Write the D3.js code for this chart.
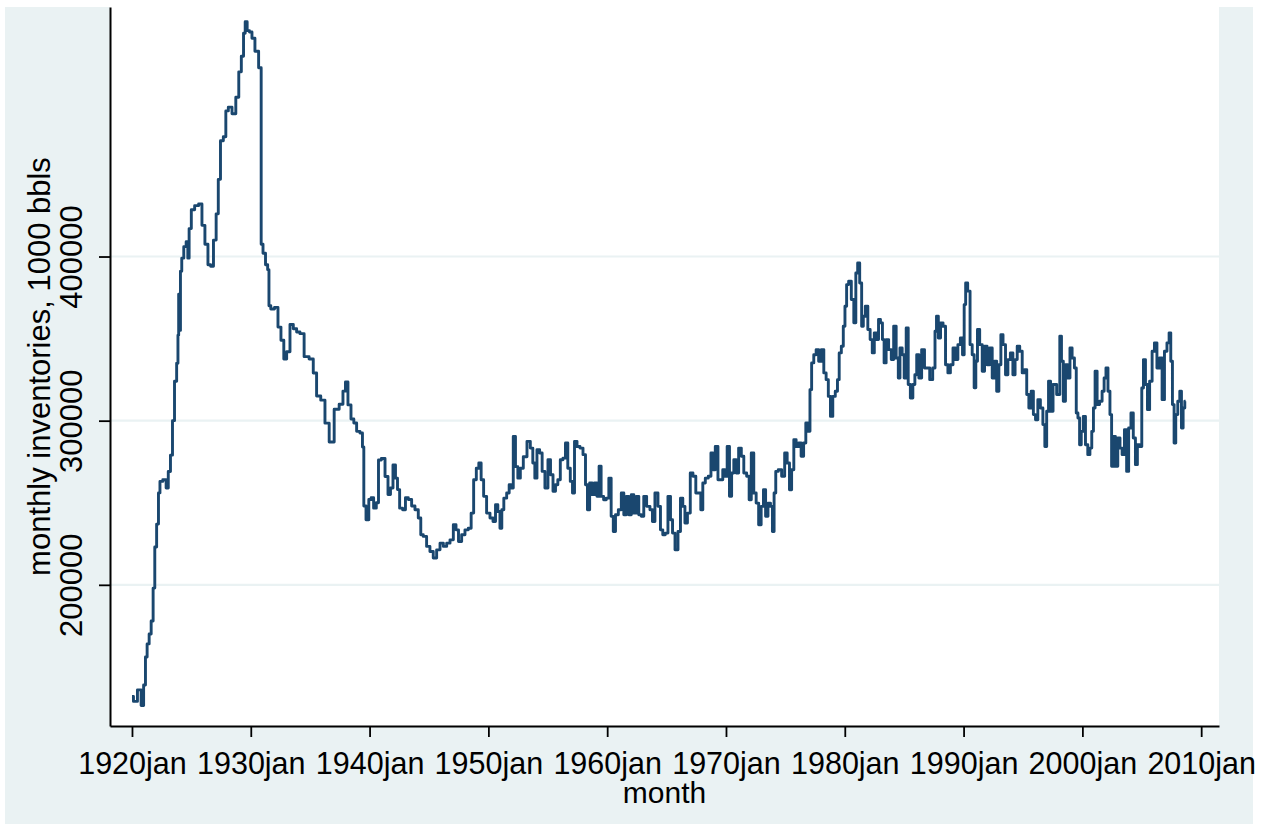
<!DOCTYPE html>
<html>
<head>
<meta charset="utf-8">
<script src="https://cdnjs.cloudflare.com/ajax/libs/d3/7.8.5/d3.min.js"></script>
<style>
  body { margin: 0; background: #ffffff; }
  text { font-family: "Liberation Sans", Arial, sans-serif; fill: #000; }
</style>
</head>
<body>
<div id="chart"></div>
<script>
// monthly crude inventories (month as decimal year, value in 1000 bbls)
var months = [
  1920.00, 1920.25, 1920.67, 1920.87, 1921.09, 1921.18, 1921.37, 1921.52, 1921.71, 1921.85,
  1921.99, 1922.16, 1922.30, 1922.41, 1922.78, 1922.97, 1923.14, 1923.34, 1923.48, 1923.68,
  1923.84, 1923.90, 1923.96, 1924.04, 1924.12, 1924.26, 1924.46, 1924.66, 1924.74, 1924.88,
  1925.11, 1925.44, 1925.78, 1926.00, 1926.28, 1926.51, 1926.73, 1926.99, 1927.18, 1927.35,
  1927.55, 1927.83, 1927.97, 1928.25, 1928.59, 1928.89, 1929.09, 1929.32, 1929.46, 1929.60,
  1929.79, 1929.99, 1930.21, 1930.49, 1930.83, 1930.92, 1931.14, 1931.34, 1931.50, 1931.56,
  1931.81, 1932.18, 1932.40, 1932.68, 1932.88, 1933.16, 1933.44, 1933.72, 1934.00, 1934.28,
  1934.70, 1935.12, 1935.40, 1935.68, 1936.10, 1936.39, 1936.81, 1937.23, 1937.65, 1937.87,
  1938.07, 1938.29, 1938.58,
  1938.77, 1939.05, 1939.33, 1939.47, 1939.56, 1939.84, 1940.03, 1940.23, 1940.45, 1940.68,
  1940.82, 1941.16, 1941.44, 1941.66, 1941.86, 1942.08, 1942.28, 1942.42, 1942.64, 1942.92,
  1943.12, 1943.40, 1943.68, 1943.96, 1944.24, 1944.38, 1944.66, 1944.94, 1945.22, 1945.50,
  1945.79, 1946.07, 1946.35, 1946.63, 1946.91, 1947.19, 1947.36, 1947.61, 1947.89, 1948.17,
  1948.45, 1948.65, 1948.87, 1949.10, 1949.29, 1949.49, 1949.71, 1949.99, 1950.28, 1950.50,
  1950.70, 1950.89, 1951.06, 1951.20, 1951.40, 1951.68, 1951.82, 1952.01, 1952.18, 1952.38,
  1952.58, 1952.80, 1953.08, 1953.42, 1953.64, 1953.84, 1953.98, 1954.20, 1954.43, 1954.62,
  1954.90, 1955.13, 1955.33, 1955.55, 1955.75, 1955.94, 1956.17, 1956.39, 1956.59, 1956.78,
  1957.01, 1957.15, 1957.35, 1957.57, 1957.85, 1958.08, 1958.27, 1958.41, 1958.64, 1958.83,
  1959.03, 1959.25, 1959.39, 1959.59, 1959.81, 1960.04, 1960.24, 1960.43, 1960.60, 1960.80,
  1961.08, 1961.30, 1961.50, 1961.72, 1961.92, 1962.14, 1962.34, 1962.56, 1962.76,
  1962.98, 1963.18, 1963.46, 1963.74, 1963.88, 1964.16, 1964.39, 1964.58, 1964.78, 1965.00,
  1965.23, 1965.43, 1965.57, 1965.85, 1966.07, 1966.27, 1966.46, 1966.63, 1966.88, 1967.11,
  1967.33, 1967.59, 1967.81, 1967.95, 1968.15, 1968.37, 1968.65, 1968.82, 1968.99, 1969.21,
  1969.44, 1969.63, 1969.83, 1970.00, 1970.20, 1970.39, 1970.56, 1970.76, 1970.95, 1971.18,
  1971.40, 1971.60, 1971.88, 1972.02, 1972.24, 1972.44, 1972.64, 1972.86, 1973.06, 1973.25,
  1973.42, 1973.65, 1973.84, 1973.98, 1974.12, 1974.26, 1974.54, 1974.83, 1975.05, 1975.25,
  1975.44, 1975.61, 1975.81, 1976.00, 1976.23, 1976.42, 1976.65, 1976.79, 1977.01, 1977.13,
  1977.29, 1977.49, 1977.69, 1977.91, 1978.14, 1978.33, 1978.53, 1978.70, 1978.89, 1979.09,
  1979.31, 1979.46, 1979.60, 1979.82, 1979.93, 1980.10, 1980.21, 1980.44, 1980.66, 1980.86,
  1981.00, 1981.17, 1981.34, 1981.50, 1981.62, 1981.84, 1982.04, 1982.23, 1982.40, 1982.57,
  1982.77, 1982.91, 1983.10, 1983.24, 1983.38, 1983.58, 1983.80, 1984.03, 1984.20,
  1984.45, 1984.56, 1984.73, 1984.93, 1985.07, 1985.27, 1985.41, 1985.63, 1985.83, 1985.97,
  1986.14, 1986.33, 1986.61, 1986.81, 1987.04, 1987.26, 1987.54, 1987.65, 1987.79, 1987.96,
  1988.16, 1988.38, 1988.58, 1988.78, 1989.00, 1989.22, 1989.42, 1989.62, 1989.84, 1989.98,
  1990.12, 1990.23, 1990.46, 1990.63, 1990.82, 1990.96, 1991.10, 1991.24, 1991.47, 1991.67,
  1991.86, 1992.09, 1992.31, 1992.51, 1992.70, 1992.87, 1993.07, 1993.21, 1993.43, 1993.63,
  1993.83, 1994.05, 1994.25, 1994.42, 1994.61, 1994.84, 1995.03, 1995.23, 1995.40, 1995.59,
  1995.79, 1995.96, 1996.15, 1996.35, 1996.58, 1996.77, 1996.91, 1997.08, 1997.22, 1997.42,
  1997.64,
  1998.03, 1998.17, 1998.31, 1998.48, 1998.67, 1998.87, 1999.04, 1999.23, 1999.43, 1999.54,
  1999.71, 1999.82, 1999.99, 2000.16, 2000.36, 2000.55, 2000.72, 2000.86, 2001.00, 2001.14,
  2001.34, 2001.56, 2001.76, 2001.90, 2002.07, 2002.24, 2002.40, 2002.52, 2002.68, 2002.88,
  2003.08, 2003.25, 2003.44, 2003.64, 2003.81, 2003.98, 2004.20, 2004.37, 2004.56, 2004.70,
  2004.93, 2005.07, 2005.21, 2005.41, 2005.55, 2005.77, 2005.97, 2006.16, 2006.39, 2006.61,
  2006.81, 2007.01, 2007.23, 2007.37, 2007.51, 2007.65, 2007.79, 2007.93, 2008.13, 2008.27,
  2008.41, 2008.55, 2008.69
];

var inventory = [
  132000, 129000, 136000, 126500, 139000, 156000, 164000, 170000, 178000, 198000,
  223000, 237000, 256000, 263000, 264000, 259000, 269000, 279000, 300000, 324000,
  335000, 352000, 377000, 355000, 391000, 399000, 406000, 409000, 399000, 417000,
  428500, 431000, 432000, 419000, 407500, 395000, 394000, 410000, 426000, 447000,
  470500, 473000, 488700, 491000, 487000, 497000, 512500, 522000, 536000, 543000,
  537600, 536800, 533000, 525000, 515000, 407500, 402000, 395000, 392000, 370000,
  368000, 369000, 357000, 349000, 337600, 342000, 358600, 356000, 354000, 353000,
  339000, 337600, 329000, 315000, 312500, 298500, 287000, 307000, 310000, 318000,
  323600, 309600, 301000,
  298600, 293500, 292500, 284000, 248000, 239600, 252000, 253000, 246700, 250000,
  276000, 277000, 266000, 255000, 259000, 273000, 265000, 258000, 246700, 245700,
  253000, 252000, 248000, 245700, 240700, 230500, 229500, 223400, 220300, 216300,
  221300, 225400, 223400, 225400, 227400, 236600, 233500, 226400, 230500, 233500,
  234500, 243700, 264000, 271000, 274200, 264000, 253900, 243700, 240700, 238600,
  248800, 244700, 234500, 245700, 252800, 255900, 261000, 259000, 290400, 272000,
  265000, 271000, 278000, 287400, 283300, 274200, 265000, 282300, 280300, 269100,
  259000, 276200, 267100, 257000, 261000, 264000, 276200, 277200, 286400, 271000,
  263000, 255900, 287400, 284300, 283300, 279300, 261000, 245700, 262000, 255000,
  262000, 253900, 272200, 253900, 251800, 252800, 265000, 241700, 232500, 242700,
  245700, 255900, 242700, 253900, 242700, 254900, 243700, 253900, 242700,
  241700, 253900, 247800, 245700, 238600, 255900, 247800, 233500, 230500, 231500,
  253900, 239600, 231500, 221300, 232500, 252800, 247800, 237600, 243700, 268100,
  266100, 255900, 255900, 245700, 262000, 265000, 266100, 280300, 270100, 284300,
  264000, 264000, 270100, 266100, 284300, 253900, 268100, 276200, 268100, 283300,
  278300, 268100, 266100, 251800, 280300, 255900, 249800, 236600, 247800, 257900,
  241700, 249800, 247800, 232500, 255900, 269100, 270100, 266100, 280300, 274200,
  257900, 270100, 288400, 284300, 286400, 278300, 286400, 298600, 293500, 318900,
  335200, 340200, 343300, 336200, 343300, 329100, 325000, 314800, 302600, 314800,
  317900, 325000, 341300, 345300, 357500, 369700, 382900, 385000, 373800, 359600,
  390000, 396100, 383900, 357500, 363600, 369700, 355500, 349400, 341300, 353500,
  349400, 361600, 359600, 349400, 335200, 349400, 343300, 337200, 357500,
  338200, 326000, 344300, 340200, 326000, 356500, 322000, 313800, 322000, 328000,
  340200, 326000, 343300, 332100, 332100, 325000, 332100, 354500, 363600, 350400,
  359600, 357500, 334100, 329100, 334100, 344300, 337200, 346300, 350400, 340200,
  370700, 383900, 378900, 346300, 340200, 320000, 336200, 355500, 346300, 330100,
  345300, 334100, 344300, 326000, 336200, 317900, 334100, 352400, 346300, 328000,
  337200, 341300, 328000, 337200, 345300, 342300, 329100, 331100, 315900, 307700,
  317900, 303700, 300600, 312800, 307700, 297600, 284300, 305700, 324000, 305700,
  322000,
  315900, 351400, 336200, 311800, 334100, 326000, 344300, 338200, 332100, 304700,
  301600, 285300, 293500, 302600, 285300, 279300, 283300, 293500, 307700, 330100,
  309800, 311800, 317900, 326000, 332100, 317900, 303700, 272200, 290400, 272200,
  289400, 283300, 279300, 294500, 269100, 295500, 304700, 289400, 273200, 285300,
  284300, 319900, 337200, 322000, 306700, 324000, 342300, 347400, 332100, 338200,
  312800, 342300, 347400, 353500, 336200, 309800, 286400, 303700, 311800, 317900,
  295500, 307700, 311800
];

var xTicks = [1920, 1930, 1940, 1950, 1960, 1970, 1980, 1990, 2000, 2010];
var yTicks = [200000, 300000, 400000];

var W = 1265, H = 824;
var plot = { left: 110, right: 1219, top: 7, bottom: 726 };

var svg = d3.select("#chart").append("svg")
    .attr("width", W)
    .attr("height", H);

// graph region (light bluish gray) and plot region (white)
svg.append("rect")
    .attr("x", 5).attr("y", 7)
    .attr("width", 1248).attr("height", H - 7)
    .attr("fill", "#eaf2f3");

svg.append("rect")
    .attr("x", plot.left).attr("y", plot.top)
    .attr("width", plot.right - plot.left)
    .attr("height", plot.bottom - plot.top)
    .attr("fill", "#ffffff");

var xScale = d3.scaleLinear()
    .domain([1918.15, 2011.5])
    .range([plot.left, plot.right]);

var yScale = d3.scaleLinear()
    .domain([114000, 552000])
    .range([plot.bottom, plot.top]);

// horizontal grid
svg.append("g")
    .selectAll("line")
    .data(yTicks)
    .enter()
    .append("line")
    .attr("x1", plot.left)
    .attr("x2", plot.right)
    .attr("y1", d => yScale(d))
    .attr("y2", d => yScale(d))
    .attr("stroke", "#eaf2f3")
    .attr("stroke-width", 2.2);

// the series (monthly data, drawn as steps)
var data = d3.zip(months, inventory);

var line = d3.line()
    .x(d => xScale(d[0]))
    .y(d => yScale(d[1]))
    .curve(d3.curveStep);

svg.append("path")
    .datum(data)
    .attr("d", line)
    .attr("fill", "none")
    .attr("stroke", "#1a476f")
    .attr("stroke-width", 2.9)
    .attr("stroke-linejoin", "round");

// x axis
var xAxis = d3.axisBottom(xScale)
    .tickValues(xTicks)
    .tickFormat(d => d + "jan")
    .tickSize(11)
    .tickSizeOuter(0)
    .tickPadding(15);

var gx = svg.append("g")
    .attr("transform", "translate(0," + plot.bottom + ")")
    .call(xAxis);
gx.select(".domain").attr("stroke", "#000").attr("stroke-width", 2);
gx.selectAll(".tick line").attr("stroke", "#000").attr("stroke-width", 1.8);
gx.selectAll(".tick text")
    .attr("font-size", "30.5px")
    .attr("font-family", "Liberation Sans, Arial, sans-serif")
    .attr("fill", "#000");

// y axis, labels turned like Stata does
var yAxis = d3.axisLeft(yScale)
    .tickValues(yTicks)
    .tickFormat(d3.format("d"))
    .tickSize(11)
    .tickSizeOuter(0);

var gy = svg.append("g")
    .attr("transform", "translate(" + plot.left + ",0)")
    .call(yAxis);
gy.select(".domain").attr("stroke", "#000").attr("stroke-width", 2);
gy.selectAll(".tick line").attr("stroke", "#000").attr("stroke-width", 1.8);
gy.selectAll(".tick text")
    .attr("transform", "rotate(-90)")
    .attr("x", 0)
    .attr("y", -28)
    .attr("dy", 0)
    .attr("text-anchor", "middle")
    .attr("font-size", "31px")
    .attr("font-family", "Liberation Sans, Arial, sans-serif")
    .attr("fill", "#000");

// axis titles
svg.append("text")
    .attr("x", (plot.left + plot.right) / 2)
    .attr("y", 803)
    .attr("text-anchor", "middle")
    .attr("font-size", "30px")
    .text("month");

svg.append("text")
    .attr("transform", "translate(50," + ((plot.top + plot.bottom) / 2) + ") rotate(-90)")
    .attr("text-anchor", "middle")
    .attr("font-size", "31px")
    .text("monthly inventories, 1000 bbls");
</script>
</body>
</html>
